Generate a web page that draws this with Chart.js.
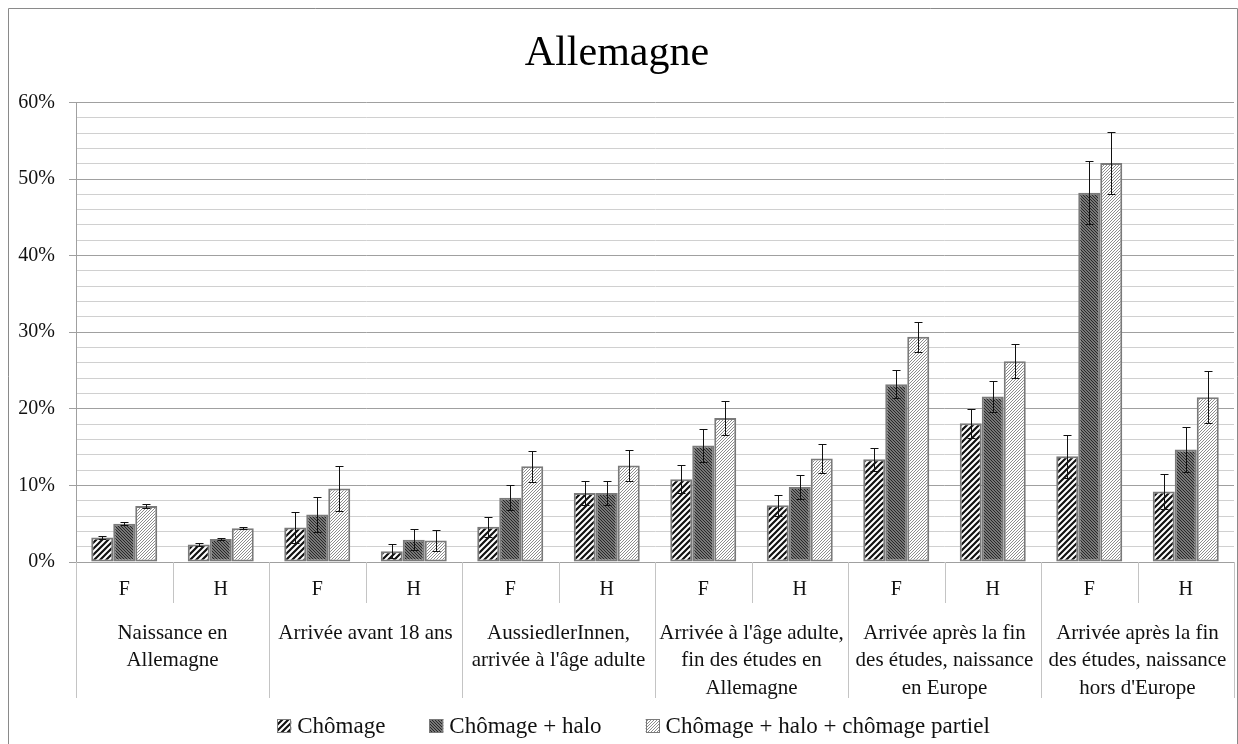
<!DOCTYPE html>
<html>
<head>
<meta charset="utf-8">
<script src="https://cdn.jsdelivr.net/npm/chart.js@4.4.1/dist/chart.umd.min.js"></script>
<style>
  html, body { margin: 0; padding: 0; background: #fff; }
  #wrap { width: 1238px; height: 744px; position: relative; }
</style>
</head>
<body>
<div id="wrap"><canvas id="chart"></canvas></div>
<script>
// data (percent)
const categories = ["F","H","F","H","F","H","F","H","F","H","F","H"];
const groupLabels = [
  ["Naissance en", "Allemagne"],
  ["Arrivée avant 18 ans"],
  ["AussiedlerInnen,", "arrivée à l'âge adulte"],
  ["Arrivée à l'âge adulte,", "fin des études en", "Allemagne"],
  ["Arrivée après la fin", "des études, naissance", "en Europe"],
  ["Arrivée après la fin", "des études, naissance", "hors d'Europe"]
];
const seriesNames = ["Chômage", "Chômage + halo", "Chômage + halo + chômage partiel"];
const chomage    = [3.2, 2.3, 4.5, 1.4, 4.6, 9.0, 10.8, 7.4, 13.4, 18.1, 13.8, 9.2];
const chomageErr = [0.2, 0.15, 2.0, 0.9, 1.3, 1.6, 1.8, 1.4, 1.5, 1.9, 2.8, 2.3];
const halo       = [5.0, 3.0, 6.2, 2.9, 8.4, 9.0, 15.2, 9.8, 23.2, 21.6, 48.2, 14.7];
const haloErr    = [0.2, 0.15, 2.3, 1.35, 1.6, 1.6, 2.1, 1.6, 1.85, 2.05, 4.1, 2.9];
const partiel    = [7.3, 4.4, 9.6, 2.8, 12.5, 12.6, 18.8, 13.5, 29.4, 26.2, 52.1, 21.5];
const partielErr = [0.3, 0.15, 2.9, 1.35, 2.0, 2.0, 2.2, 1.9, 1.95, 2.2, 4.1, 3.4];

const FONT = "'Liberation Serif', 'Times New Roman', serif";

function hatch(bg, fg, size, lw, dir){
  const c = document.createElement("canvas");
  c.width = size; c.height = size;
  const g = c.getContext("2d");
  g.fillStyle = bg; g.fillRect(0,0,size,size);
  g.strokeStyle = fg; g.lineWidth = lw;
  g.beginPath();
  for(let k=-1;k<=1;k++){
    const o = k*size;
    if(dir === "/"){ g.moveTo(o-1, size+1); g.lineTo(o+size+1, -1); }
    else { g.moveTo(o-1, -1); g.lineTo(o+size+1, size+1); }
  }
  g.stroke();
  return g.createPattern(c, "repeat");
}

const patChomage = hatch("#ffffff", "#111111", 6, 2.2, "/");
const patHalo    = hatch("#9a9a9a", "#222222", 3, 1.1, "\\");
const patPartiel = hatch("#ffffff", "#8c8c8c", 3, 1.0, "/");

const errorBars = {
  id: "errorBars",
  afterDatasetsDraw(chart){
    const {ctx, scales:{y}} = chart;
    ctx.save();
    ctx.strokeStyle = "#111";
    ctx.lineWidth = 1;
    chart.data.datasets.forEach((ds, di)=>{
      const meta = chart.getDatasetMeta(di);
      meta.data.forEach((bar, i)=>{
        const v = ds.data[i], e = ds.errors[i];
        const t = Math.round(y.getPixelForValue(v+e)) + 0.5;
        const b = Math.round(y.getPixelForValue(v-e)) + 0.5;
        const x = Math.round(bar.x) + 0.5;
        ctx.beginPath();
        ctx.moveTo(x, t); ctx.lineTo(x, b);
        ctx.moveTo(x-4, t); ctx.lineTo(x+4, t);
        ctx.moveTo(x-4, b); ctx.lineTo(x+4, b);
        ctx.stroke();
      });
    });
    ctx.restore();
  }
};

const axisGroups = {
  id: "axisGroups",
  afterDraw(chart){
    const {ctx, chartArea:a, scales:{x}} = chart;
    const half = (x.getPixelForValue(1) - x.getPixelForValue(0)) / 2;
    ctx.save();
    // border round the chart
    ctx.strokeStyle = "#8a8a8a";
    ctx.lineWidth = 1;
    ctx.beginPath();
    ctx.moveTo(8.5, 744); ctx.lineTo(8.5, 8.5); ctx.lineTo(1237.5, 8.5); ctx.lineTo(1237.5, 744);
    ctx.stroke();
    // dividers under the axis
    ctx.strokeStyle = "#c4c4c4";
    ctx.beginPath();
    for(let i=0;i<=categories.length;i++){
      const bx = Math.round(i < categories.length ? x.getPixelForValue(i) - half : x.getPixelForValue(i-1) + half) + 0.5;
      const len = i % 2 === 0 ? 136 : 41;
      ctx.moveTo(bx, a.bottom); ctx.lineTo(bx, a.bottom + len);
    }
    ctx.stroke();
    // group labels
    ctx.fillStyle = "#111";
    ctx.font = "21px " + FONT;
    ctx.textAlign = "center";
    ctx.textBaseline = "middle";
    groupLabels.forEach((lines, g)=>{
      const cx = (x.getPixelForValue(2*g) + x.getPixelForValue(2*g+1)) / 2;
      lines.forEach((t, k)=> ctx.fillText(t, cx, a.bottom + 71 + k*27.5));
    });
    // legend
    ctx.font = "23px " + FONT;
    ctx.textAlign = "left";
    const box = 14, gap = 6, itemGap = 44;
    const widths = chart.data.datasets.map(ds => box + gap + ctx.measureText(ds.label).width);
    const total = widths.reduce((s,w)=>s+w,0) + itemGap*(widths.length-1);
    let lx = 633.5 - total/2;
    const ly = 726;
    chart.data.datasets.forEach((ds, i)=>{
      ctx.fillStyle = ds.backgroundColor;
      ctx.fillRect(lx, ly - box/2, box, box);
      ctx.strokeStyle = "#7a7a7a";
      ctx.strokeRect(Math.round(lx)+0.5, Math.round(ly - box/2)+0.5, box-1, box-1);
      ctx.fillStyle = "#111";
      ctx.fillText(ds.label, lx + box + gap, ly + 1);
      lx += widths[i] + itemGap;
    });
    ctx.restore();
  }
};

const barStyle = { borderColor: "#7a7a7a", borderWidth: 2, borderSkipped: false };

new Chart(document.getElementById("chart"), {
  type: "bar",
  data: {
    labels: categories,
    datasets: [
      { label: seriesNames[0], data: chomage, errors: chomageErr, backgroundColor: patChomage, ...barStyle },
      { label: seriesNames[1], data: halo, errors: haloErr, backgroundColor: patHalo, ...barStyle },
      { label: seriesNames[2], data: partiel, errors: partielErr, backgroundColor: patPartiel, ...barStyle }
    ]
  },
  options: {
    responsive: true,
    maintainAspectRatio: false,
    animation: false,
    events: [],
    layout: { padding: { top: 10, right: 4, bottom: 46, left: 0 } },
    datasets: { bar: { categoryPercentage: 0.684, barPercentage: 1.0 } },
    plugins: {
      legend: { display: false },
      tooltip: { enabled: false },
      title: {
        display: true,
        text: "Allemagne",
        color: "#000",
        font: { family: FONT, size: 42, weight: "normal" },
        padding: { top: 19, bottom: 23 }
      }
    },
    scales: {
      x: {
        grid: { display: false, drawTicks: false },
        border: { display: false },
        ticks: { color: "#111", font: { family: FONT, size: 20 }, padding: 16, maxRotation: 0 },
        afterFit(s){ s.height = 136; }
      },
      y: {
        min: 0, max: 60,
        border: { display: true, color: "#a0a0a0" },
        grid: {
          color: c => (c.tick && c.tick.value % 10 === 0) ? "#a0a0a0" : "#d0d0d0",
          tickColor: c => (c.tick && c.tick.value % 10 === 0) ? "#a0a0a0" : "rgba(0,0,0,0)",
          tickLength: 7
        },
        ticks: {
          stepSize: 2,
          autoSkip: false,
          padding: 14,
          color: "#111",
          font: { family: FONT, size: 20 },
          callback: v => v % 10 === 0 ? v + "%" : ""
        },
        afterFit(s){ s.width = 76; }
      }
    }
  },
  plugins: [errorBars, axisGroups]
});
</script>
</body>
</html>
